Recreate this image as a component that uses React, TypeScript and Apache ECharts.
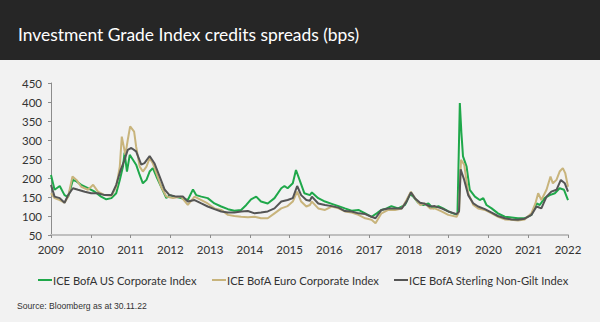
import React, { useEffect, useRef } from "react";
import * as echarts from "echarts";

const titleText = "Investment Grade Index credits spreads (bps)";
const sourceText = "Source: Bloomberg as at 30.11.22";
const seriesNames = [
  "ICE BofA US Corporate Index",
  "ICE BofA Euro Corporate Index",
  "ICE BofA Sterling Non-Gilt Index",
];
const seriesColors = ["#1fa84a", "#c8b47c", "#555555"];

const usSpread: [number, number][] = [
  [2009.0, 208], [2009.09, 169], [2009.22, 179], [2009.34, 155], [2009.43, 150], [2009.55, 195],
  [2009.64, 191], [2009.76, 182], [2009.93, 173], [2010.1, 164], [2010.26, 151], [2010.39, 144],
  [2010.52, 147], [2010.64, 160], [2010.73, 195], [2010.81, 230], [2010.85, 267], [2010.91, 217],
  [2010.98, 261], [2011.06, 248], [2011.14, 235], [2011.23, 208], [2011.31, 186], [2011.4, 195],
  [2011.48, 217], [2011.56, 226], [2011.65, 204], [2011.77, 177], [2011.9, 147], [2011.98, 155],
  [2012.11, 151], [2012.27, 147], [2012.44, 142], [2012.57, 170], [2012.65, 155], [2012.78, 151],
  [2012.94, 147], [2013.11, 133], [2013.28, 125], [2013.45, 118], [2013.61, 114], [2013.78, 116],
  [2013.91, 129], [2014.03, 144], [2014.16, 151], [2014.28, 138], [2014.45, 133], [2014.62, 147],
  [2014.79, 173], [2014.87, 179], [2014.95, 173], [2015.08, 186], [2015.16, 221], [2015.25, 195],
  [2015.37, 160], [2015.51, 155], [2015.56, 162], [2015.72, 147], [2015.89, 138], [2016.06, 132],
  [2016.23, 126], [2016.39, 120], [2016.56, 114], [2016.73, 116], [2016.9, 107], [2017.06, 98],
  [2017.19, 107], [2017.31, 116], [2017.44, 120], [2017.56, 126], [2017.73, 120], [2017.9, 129],
  [2018.03, 158], [2018.11, 151], [2018.23, 135], [2018.36, 129], [2018.49, 133], [2018.61, 120],
  [2018.74, 126], [2018.86, 120], [2018.99, 112], [2019.11, 107], [2019.22, 103], [2019.28, 397],
  [2019.32, 318], [2019.36, 257], [2019.45, 230], [2019.53, 169], [2019.66, 151], [2019.78, 142],
  [2019.87, 147], [2019.95, 129], [2020.08, 120], [2020.24, 107], [2020.41, 98], [2020.58, 96],
  [2020.74, 94], [2020.91, 94], [2021.08, 103], [2021.21, 133], [2021.29, 129], [2021.41, 147],
  [2021.54, 155], [2021.67, 160], [2021.79, 173], [2021.9, 169], [2022.0, 142],
];

const euroSpread: [number, number][] = [
  [2009.0, 160], [2009.09, 147], [2009.22, 142], [2009.34, 135], [2009.43, 151], [2009.54, 204],
  [2009.64, 195], [2009.76, 177], [2009.93, 169], [2010.06, 182], [2010.18, 164], [2010.35, 155],
  [2010.52, 153], [2010.64, 177], [2010.73, 230], [2010.78, 309], [2010.87, 261], [2010.93, 300],
  [2010.99, 336], [2011.09, 322], [2011.14, 283], [2011.23, 230], [2011.31, 217], [2011.4, 230],
  [2011.48, 252], [2011.56, 239], [2011.65, 213], [2011.77, 177], [2011.9, 151], [2012.07, 147],
  [2012.27, 151], [2012.44, 129], [2012.61, 151], [2012.78, 142], [2012.94, 133], [2013.11, 120],
  [2013.28, 116], [2013.45, 103], [2013.61, 100], [2013.78, 98], [2013.95, 97], [2014.12, 98],
  [2014.28, 94], [2014.45, 94], [2014.62, 107], [2014.79, 120], [2014.95, 126], [2015.08, 138],
  [2015.19, 164], [2015.29, 138], [2015.42, 125], [2015.51, 129], [2015.56, 138], [2015.72, 120],
  [2015.89, 116], [2016.06, 125], [2016.23, 120], [2016.39, 112], [2016.56, 109], [2016.73, 103],
  [2016.9, 94], [2017.06, 90], [2017.16, 81], [2017.31, 107], [2017.48, 116], [2017.65, 116],
  [2017.82, 120], [2017.94, 142], [2018.05, 164], [2018.15, 147], [2018.28, 129], [2018.4, 133],
  [2018.53, 120], [2018.65, 120], [2018.82, 112], [2018.99, 103], [2019.2, 98], [2019.26, 112],
  [2019.31, 248], [2019.39, 235], [2019.49, 160], [2019.62, 129], [2019.74, 120], [2019.91, 116],
  [2020.08, 107], [2020.24, 98], [2020.41, 91], [2020.58, 90], [2020.74, 88], [2020.91, 91],
  [2021.08, 107], [2021.18, 133], [2021.25, 160], [2021.33, 142], [2021.46, 169], [2021.56, 204],
  [2021.62, 186], [2021.71, 195], [2021.79, 217], [2021.87, 226], [2021.93, 213], [2022.0, 177],
];

const sterlingSpread: [number, number][] = [
  [2009.0, 182], [2009.09, 151], [2009.22, 147], [2009.34, 135], [2009.43, 155], [2009.55, 173],
  [2009.68, 169], [2009.85, 164], [2010.01, 160], [2010.18, 160], [2010.35, 155], [2010.52, 155],
  [2010.64, 182], [2010.75, 221], [2010.85, 248], [2010.93, 274], [2011.02, 279], [2011.14, 270],
  [2011.27, 235], [2011.35, 239], [2011.48, 258], [2011.6, 239], [2011.73, 204], [2011.86, 169],
  [2011.98, 155], [2012.15, 151], [2012.32, 151], [2012.44, 138], [2012.61, 142], [2012.78, 133],
  [2012.94, 125], [2013.11, 118], [2013.28, 112], [2013.45, 109], [2013.61, 109], [2013.78, 112],
  [2013.95, 113], [2014.12, 107], [2014.28, 109], [2014.45, 112], [2014.62, 120], [2014.79, 138],
  [2014.95, 142], [2015.08, 147], [2015.19, 179], [2015.29, 155], [2015.42, 142], [2015.51, 140],
  [2015.56, 151], [2015.72, 133], [2015.89, 129], [2016.06, 126], [2016.23, 122], [2016.39, 113],
  [2016.56, 112], [2016.73, 107], [2016.9, 105], [2017.06, 98], [2017.16, 94], [2017.31, 116],
  [2017.48, 120], [2017.65, 120], [2017.82, 120], [2017.94, 138], [2018.05, 162], [2018.15, 147],
  [2018.28, 135], [2018.4, 132], [2018.53, 125], [2018.65, 126], [2018.82, 120], [2018.99, 112],
  [2019.2, 105], [2019.26, 112], [2019.3, 223], [2019.39, 195], [2019.49, 155], [2019.62, 133],
  [2019.74, 125], [2019.91, 118], [2020.08, 109], [2020.24, 100], [2020.41, 94], [2020.58, 91],
  [2020.74, 90], [2020.91, 93], [2021.08, 103], [2021.21, 125], [2021.33, 120], [2021.46, 151],
  [2021.58, 164], [2021.71, 169], [2021.82, 195], [2021.92, 186], [2022.0, 164],
];

const seriesData = [usSpread, euroSpread, sterlingSpread];
const legendLineX = [38, 212, 394];
const FONT = "Lato, 'Liberation Sans', sans-serif";

export default function App() {
  const ref = useRef<HTMLDivElement>(null);
  useEffect(() => {
    if (!ref.current) return;
    const chart = echarts.init(ref.current, null, { renderer: "svg" });
    const legendGraphics: any[] = [];
    seriesNames.forEach((name, i) => {
      legendGraphics.push({
        type: "line",
        shape: { x1: legendLineX[i], y1: 280, x2: legendLineX[i] + 14, y2: 280 },
        style: { stroke: seriesColors[i], lineWidth: 2 },
      });
      legendGraphics.push({
        type: "text",
        x: legendLineX[i] + 15,
        y: 280,
        style: {
          text: name,
          fill: "#333333",
          font: `11.2px ${FONT}`,
          verticalAlign: "middle",
          align: "left",
        },
      });
    });
    chart.setOption({
      animation: false,
      backgroundColor: "#f2f2f2",
      grid: { left: 51, right: 32, top: 83, bottom: 87, containLabel: false },
      xAxis: {
        type: "value",
        min: 2009,
        max: 2022,
        interval: 1,
        axisLine: { show: true, lineStyle: { color: "#bfbfbf", width: 2 } },
        axisTick: { show: true, length: 3, lineStyle: { color: "#8c8c8c" } },
        axisLabel: { color: "#333333", fontSize: 11.5, fontFamily: FONT, margin: 8, formatter: (v: number) => String(v) },
        splitLine: { show: false },
      },
      yAxis: {
        type: "value",
        min: 50,
        max: 450,
        interval: 50,
        axisLine: { show: true, lineStyle: { color: "#8c8c8c", width: 1 } },
        axisTick: { show: true, length: 3, lineStyle: { color: "#8c8c8c" } },
        axisLabel: { color: "#333333", fontSize: 11.5, fontFamily: FONT, margin: 9 },
        splitLine: { show: false },
      },
      series: seriesNames.map((name, i) => ({
        name,
        type: "line",
        data: seriesData[i],
        showSymbol: false,
        symbol: "none",
        lineStyle: { color: seriesColors[i], width: 2 },
        itemStyle: { color: seriesColors[i] },
      })),
      graphic: [
        { type: "rect", shape: { x: 0, y: 0, width: 600, height: 60 }, style: { fill: "#262626" } },
        {
          type: "text",
          x: 18,
          y: 34,
          style: { text: titleText, fill: "#ffffff", font: `17.4px ${FONT}`, verticalAlign: "middle" },
        },
        ...legendGraphics,
        {
          type: "text",
          x: 17,
          y: 306,
          style: {
            text: sourceText,
            fill: "#333333",
            font: "8.6px 'Liberation Sans Narrow', 'Liberation Sans', sans-serif",
            verticalAlign: "middle",
          },
        },
      ],
    });
    return () => chart.dispose();
  }, []);
  return <div ref={ref} style={{ width: 600, height: 322, position: "absolute", left: 0, top: 0 }} />;
}
